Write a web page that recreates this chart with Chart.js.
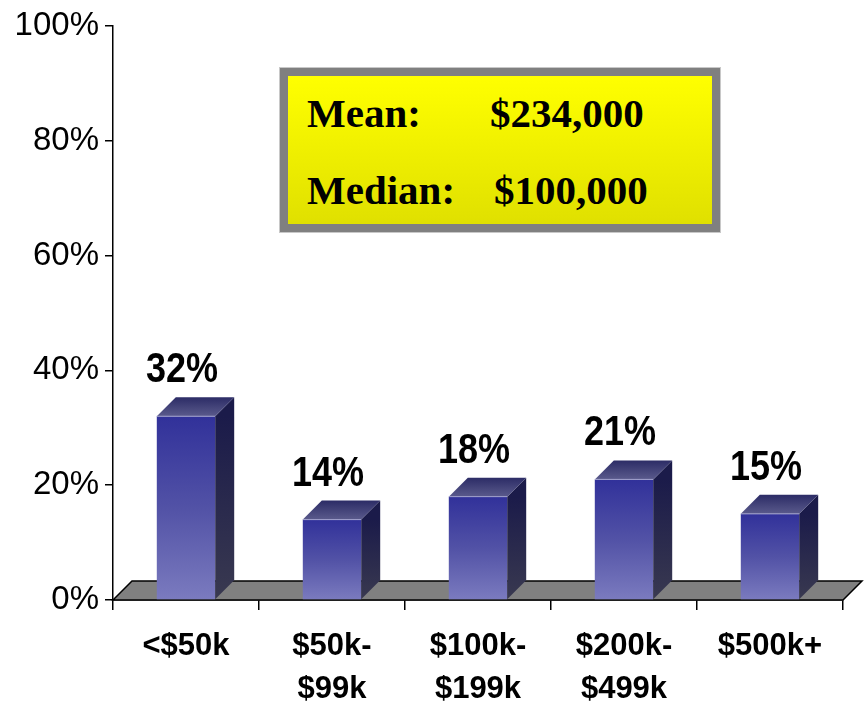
<!DOCTYPE html>
<html>
<head>
<meta charset="utf-8">
<script src="https://cdn.jsdelivr.net/npm/chart.js@4/dist/chart.umd.min.js"></script>
<style>
  html, body { margin: 0; padding: 0; background: #fff; }
  #wrap { position: relative; width: 867px; height: 707px; }
  #stats {
    position: absolute; left: 280px; top: 68px; width: 440px; height: 164px;
    box-sizing: border-box; border: 8px solid #808080;
    outline: 1px solid #c8c8c8;
    background: linear-gradient(#ffff00, #e0e000);
    font: bold 41px "Liberation Serif", "Times New Roman", serif; color: #000;
  }
  #stats span { position: absolute; line-height: 41px; white-space: nowrap; }
</style>
</head>
<body>
<div id="wrap">
  <canvas id="chart"></canvas>
  <div id="stats"></div>
</div>
<script>
// ── Data ────────────────────────────────────────────────────────────

const categoryLabels = ['<$50k', ['$50k-', '$99k'], ['$100k-', '$199k'], ['$200k-', '$499k'], '$500k+'];
const shares = [32, 14, 18, 21, 15];
const statNames = ['Mean:', 'Median:'];
const statValues = ['$234,000', '$100,000'];

// ── Stats box ───────────────────────────────────────────────────────

const statsBox = document.getElementById('stats');
const statRows = [17, 94];
const valueLefts = [202, 206];
statNames.forEach((name, i) => {
  const a = document.createElement('span');
  a.textContent = name;
  a.style.left = '19px';
  a.style.top = statRows[i] + 'px';
  statsBox.appendChild(a);
  const b = document.createElement('span');
  b.textContent = statValues[i];
  b.style.left = valueLefts[i] + 'px';
  b.style.top = statRows[i] + 'px';
  statsBox.appendChild(b);
});

// ── 3D look ─────────────────────────────────────────────────────────

const DEPTH = 19;

const floorPlugin = {
  id: 'floor',
  beforeDatasetsDraw(chart) {
    const { left, right, bottom } = chart.chartArea;
    const ctx = chart.ctx;
    ctx.save();
    ctx.beginPath();
    ctx.moveTo(left, bottom);
    ctx.lineTo(right, bottom);
    ctx.lineTo(right + DEPTH, bottom - DEPTH);
    ctx.lineTo(left + DEPTH, bottom - DEPTH);
    ctx.closePath();
    ctx.fillStyle = '#808080';
    ctx.fill();
    ctx.lineWidth = 1.5;
    ctx.strokeStyle = '#000';
    ctx.stroke();
    ctx.restore();
  }
};

const barSidesPlugin = {
  id: 'barSides',
  afterDatasetsDraw(chart) {
    const ctx = chart.ctx;
    const meta = chart.getDatasetMeta(0);
    meta.data.forEach((bar, i) => {
      const { x, y, base, width } = bar.getProps(['x', 'y', 'base', 'width'], true);
      const l = x - width / 2, r = x + width / 2;
      ctx.save();
      // side face
      let g = ctx.createLinearGradient(0, y, 0, base);
      g.addColorStop(0, '#1b1b4a');
      g.addColorStop(1, '#393950');
      ctx.beginPath();
      ctx.moveTo(r, y);
      ctx.lineTo(r + DEPTH, y - DEPTH);
      ctx.lineTo(r + DEPTH, base - DEPTH);
      ctx.lineTo(r, base);
      ctx.closePath();
      ctx.fillStyle = g;
      ctx.fill();
      // top face
      g = ctx.createLinearGradient(0, y - DEPTH, 0, y);
      g.addColorStop(0, '#2c2c66');
      g.addColorStop(1, '#5a5a8c');
      ctx.beginPath();
      ctx.moveTo(l, y);
      ctx.lineTo(l + DEPTH, y - DEPTH);
      ctx.lineTo(r + DEPTH, y - DEPTH);
      ctx.lineTo(r, y);
      ctx.closePath();
      ctx.fillStyle = g;
      ctx.fill();
      // front edge highlight
      ctx.beginPath();
      ctx.moveTo(l, y);
      ctx.lineTo(r, y);
      ctx.strokeStyle = '#a0a0cc';
      ctx.lineWidth = 1;
      ctx.stroke();
      // value label
      ctx.translate(x - 4, y - DEPTH - 15);
      ctx.scale(1, 1.2);
      ctx.font = 'bold 36px "Liberation Sans", Arial, sans-serif';
      ctx.fillStyle = '#000';
      ctx.textAlign = 'center';
      ctx.textBaseline = 'alphabetic';
      ctx.fillText(shares[i] + '%', 0, 0);
      ctx.restore();
    });
  }
};

// ── Chart ───────────────────────────────────────────────────────────

function frontFill(c) {
  const chart = c.chart;
  if (!chart.chartArea) return '#4a4aa0';
  const ys = chart.scales.y;
  const top = ys.getPixelForValue(shares[c.dataIndex]);
  const g = chart.ctx.createLinearGradient(0, top, 0, ys.getPixelForValue(0));
  g.addColorStop(0, '#31319a');
  g.addColorStop(0.5, '#5252a6');
  g.addColorStop(1, '#7b7bbf');
  return g;
}

new Chart(document.getElementById('chart'), {
  type: 'bar',
  data: {
    labels: categoryLabels,
    datasets: [{
      data: shares,
      backgroundColor: frontFill,
      borderWidth: 0,
      barPercentage: 0.4,
      categoryPercentage: 1,
    }],
  },
  options: {
    responsive: true,
    maintainAspectRatio: false,
    animation: false,
    layout: { padding: { top: 24, right: 24, left: 0, bottom: 0 } },
    plugins: { legend: { display: false }, tooltip: { enabled: false } },
    scales: {
      y: {
        min: 0,
        max: 100,
        ticks: {
          stepSize: 20,
          callback: v => v + '%',
          color: '#000',
          padding: 6,
          font: { family: '"Liberation Sans", Arial, sans-serif', size: 33 },
        },
        grid: { drawOnChartArea: false, tickLength: 8, color: '#000', lineWidth: 1.5 },
        border: { color: '#000', width: 1.5 },
        afterFit(scale) { scale.width = 113; },
      },
      x: {
        ticks: {
          color: '#000',
          padding: 15,
          maxRotation: 0,
          autoSkip: false,
          font: { family: '"Liberation Sans", Arial, sans-serif', size: 31, weight: 'bold', lineHeight: 1.38 },
        },
        grid: { drawOnChartArea: false, tickLength: 10, color: '#000', lineWidth: 1.5 },
        border: { color: '#000', width: 1.5 },
        afterFit(scale) { scale.height = 107; },
      },
    },
  },
  plugins: [floorPlugin, barSidesPlugin],
});
</script>
</body>
</html>
